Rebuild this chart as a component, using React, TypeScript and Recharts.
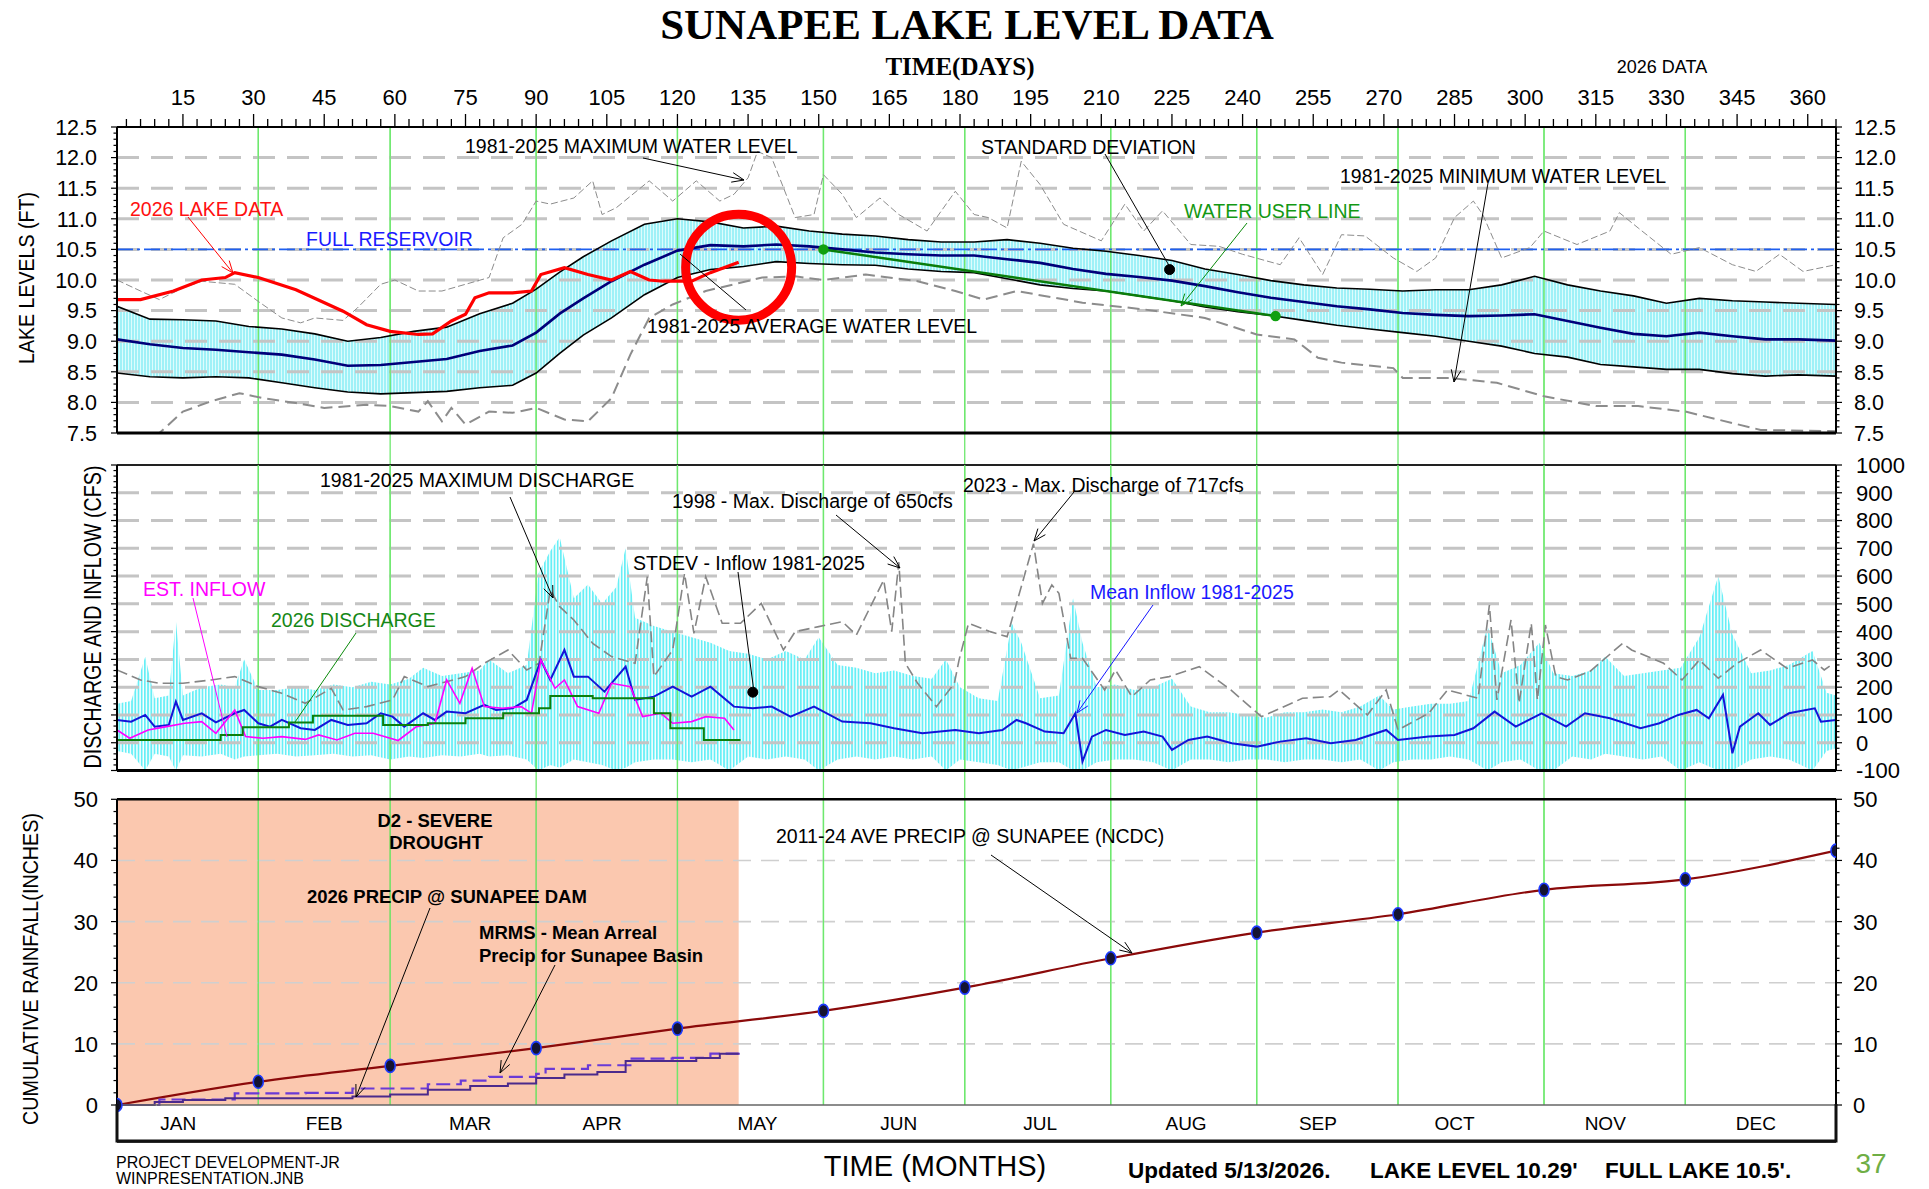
import React from 'react';
import { ComposedChart, Line, Area, XAxis, YAxis, ReferenceLine, ReferenceArea, ReferenceDot } from 'recharts';

type Pt = [number, number];

const W = 1929;
const H = 1189;
const PL = 117;
const PR = 1836;
const SANS = '"Liberation Sans", Arial, sans-serif';
const SERIF = '"Liberation Serif", "Times New Roman", serif';
const GREEN = '#6ee86e';

// ---- time ----
const dayLabels = [15, 30, 45, 60, 75, 90, 105, 120, 135, 150, 165, 180, 195, 210, 225, 240, 255, 270, 285, 300, 315, 330, 345, 360];
const monthEnds = [31, 59, 90, 120, 151, 181, 212, 243, 273, 304, 334];
const monthNames = ['JAN', 'FEB', 'MAR', 'APR', 'MAY', 'JUN', 'JUL', 'AUG', 'SEP', 'OCT', 'NOV', 'DEC'];
const monthLabelDays = [14, 45, 76, 104, 137, 167, 197, 228, 256, 285, 317, 349];

// ---- lake levels (ft) ----
const levelLabels = [7.5, 8.0, 8.5, 9.0, 9.5, 10.0, 10.5, 11.0, 11.5, 12.0, 12.5];
const levelGrid = [8.0, 8.5, 9.0, 9.5, 10.0, 10.5, 11.0, 11.5, 12.0];
const fullReservoir = 10.5;
const levelDays = [1, 8, 15, 22, 29, 36, 43, 50, 57, 64, 71, 78, 85, 90, 95, 100, 106, 113, 120, 127, 134, 141, 148, 155, 162, 169, 176, 183, 190, 197, 204, 211, 218, 225, 232, 239, 246, 253, 260, 267, 274, 281, 288, 295, 302, 309, 316, 323, 330, 337, 344, 351, 358, 366];
const stdHigh = [9.57, 9.36, 9.35, 9.33, 9.24, 9.2, 9.12, 9.0, 9.06, 9.16, 9.23, 9.45, 9.62, 9.85, 10.13, 10.38, 10.64, 10.91, 11.0, 10.95, 10.85, 10.88, 10.8, 10.75, 10.72, 10.66, 10.62, 10.62, 10.66, 10.6, 10.52, 10.47, 10.4, 10.32, 10.18, 10.09, 9.99, 9.92, 9.87, 9.85, 9.82, 9.84, 9.84, 9.92, 10.06, 9.92, 9.82, 9.74, 9.62, 9.7, 9.66, 9.64, 9.62, 9.6];
const avgLevel = [9.03, 8.95, 8.89, 8.86, 8.82, 8.78, 8.7, 8.6, 8.61, 8.66, 8.71, 8.84, 8.93, 9.14, 9.45, 9.7, 9.98, 10.25, 10.48, 10.57, 10.55, 10.58, 10.55, 10.5, 10.45, 10.42, 10.4, 10.4, 10.34, 10.28, 10.18, 10.1, 10.05, 9.99, 9.9, 9.8, 9.71, 9.64, 9.57, 9.52, 9.46, 9.43, 9.41, 9.42, 9.44, 9.33, 9.22, 9.12, 9.08, 9.14, 9.08, 9.03, 9.03, 9.01];
const stdLow = [8.48, 8.42, 8.4, 8.42, 8.4, 8.32, 8.24, 8.17, 8.14, 8.16, 8.18, 8.24, 8.28, 8.48, 8.8, 9.1, 9.38, 9.76, 10.04, 10.17, 10.22, 10.3, 10.27, 10.25, 10.24, 10.18, 10.14, 10.12, 10.02, 9.92, 9.86, 9.82, 9.74, 9.66, 9.56, 9.48, 9.42, 9.34, 9.26, 9.2, 9.14, 9.08, 9.0, 8.92, 8.8, 8.74, 8.62, 8.58, 8.54, 8.54, 8.47, 8.43, 8.45, 8.43];
const maxLevel: Pt[] = [[1, 10.0], [6, 9.82], [10, 9.68], [15, 9.87], [19, 9.98], [26, 9.93], [31, 9.65], [36, 9.38], [40, 9.3], [43, 9.38], [49, 9.34], [52, 9.54], [57, 9.93], [60, 10.0], [65, 9.82], [70, 9.82], [75, 9.93], [80, 10.04], [83, 10.69], [87, 10.91], [90, 11.29], [93, 11.24], [98, 11.34], [102, 11.62], [104, 11.07], [107, 11.18], [114, 11.62], [119, 11.29], [124, 11.62], [129, 11.29], [132, 11.4], [135, 11.67], [137, 12.1], [140, 12.0], [145, 11.02], [149, 11.07], [151, 11.72], [155, 11.4], [158, 11.02], [163, 11.34], [167, 11.07], [173, 10.8], [179, 11.45], [183, 11.07], [186, 11.02], [190, 10.85], [193, 11.94], [197, 11.56], [202, 10.91], [210, 10.64], [215, 11.24], [219, 10.8], [223, 11.13], [229, 10.58], [235, 10.55], [240, 10.42], [248, 10.25], [252, 10.69], [257, 10.09], [261, 10.74], [266, 10.72], [272, 10.36], [277, 10.14], [281, 10.36], [285, 11.02], [289, 11.29], [291, 11.07], [295, 10.36], [301, 10.53], [304, 10.8], [311, 10.58], [318, 10.8], [320, 11.1], [324, 10.85], [331, 10.42], [337, 10.53], [344, 10.25], [349, 10.14], [354, 10.42], [359, 10.14], [366, 10.25]];
const minLevel: Pt[] = [[1, 7.5], [10, 7.5], [15, 7.85], [21, 8.02], [27, 8.15], [32, 8.07], [39, 7.99], [45, 7.91], [54, 7.96], [59, 7.94], [65, 7.85], [67, 8.02], [70, 7.69], [72, 7.91], [75, 7.64], [80, 7.85], [85, 7.83], [90, 7.91], [96, 7.72], [101, 7.69], [106, 8.07], [110, 8.78], [114, 9.38], [119, 9.6], [126, 9.82], [132, 9.93], [138, 10.04], [145, 10.06], [151, 10.0], [160, 10.09], [171, 9.98], [179, 9.82], [185, 9.68], [192, 9.82], [206, 9.63], [219, 9.52], [232, 9.38], [243, 9.11], [251, 9.03], [256, 8.73], [261, 8.65], [272, 8.56], [274, 8.4], [284, 8.4], [294, 8.32], [304, 8.1], [315, 7.94], [324, 7.94], [334, 7.85], [350, 7.55], [366, 7.53]];
const lake2026: Pt[] = [[1, 9.68], [6, 9.68], [13, 9.82], [19, 10.0], [24, 10.04], [26, 10.12], [31, 10.04], [39, 9.84], [49, 9.49], [54, 9.27], [59, 9.16], [65, 9.11], [68, 9.12], [72, 9.33], [75, 9.44], [77, 9.71], [80, 9.79], [85, 9.79], [89, 9.82], [91, 10.09], [96, 10.2], [101, 10.09], [106, 10.0], [110, 10.14], [114, 10.0], [117, 9.98], [123, 9.98], [127, 10.12], [133, 10.29]];
const waterUserLine: Pt[] = [[151, 10.5], [247, 9.41]];

// ---- discharge & inflow (cfs) ----
const flowLabels = [-100, 0, 100, 200, 300, 400, 500, 600, 700, 800, 900, 1000];
const flowGrid = [0, 100, 200, 300, 400, 500, 600, 700, 800, 900];
const inflowStdev: [number, number, number][] = [[1, -30, 140], [4, -40, 150], [7, -100, 310], [9, -40, 160], [12, -50, 170], [13.5, -100, 440], [15, -45, 170], [19, -50, 200], [23, -40, 210], [26, -60, 200], [28, -50, 300], [31, -45, 190], [35, -40, 190], [39, -50, 200], [43, -45, 190], [47, -40, 210], [51, -50, 200], [55, -45, 220], [59, -60, 210], [63, -50, 230], [66, -55, 270], [70, -45, 240], [74, -50, 250], [78, -40, 260], [80, -50, 300], [84, -45, 250], [88, -60, 280], [90.5, -100, 610], [93, -80, 690], [95, -90, 740], [98, -60, 520], [101, -70, 570], [104, -80, 500], [107, -100, 560], [109, -90, 700], [111, -70, 450], [115, -60, 420], [119, -60, 400], [123, -70, 380], [127, -60, 360], [131, -100, 330], [135, -50, 320], [139, -60, 300], [143, -50, 330], [147, -60, 300], [150, -100, 380], [154, -60, 280], [158, -50, 270], [162, -60, 250], [166, -50, 260], [170, -60, 240], [174, -50, 230], [177, -100, 300], [180, -60, 200], [184, -70, 160], [188, -80, 150], [191, -100, 430], [193, -90, 360], [197, -70, 160], [201, -70, 170], [204, -100, 520], [206, -100, 360], [209, -70, 200], [213, -60, 210], [217, -60, 190], [221, -70, 200], [225, -100, 230], [229, -60, 130], [233, -60, 110], [237, -70, 110], [241, -60, 100], [245, -60, 90], [249, -70, 110], [253, -60, 110], [257, -60, 120], [261, -70, 110], [265, -60, 130], [269, -100, 170], [272, -70, 120], [276, -60, 130], [280, -60, 140], [284, -50, 140], [288, -60, 150], [292, -100, 420], [295, -70, 250], [299, -60, 280], [303, -100, 360], [306, -100, 250], [310, -50, 240], [314, -60, 260], [317, -40, 310], [321, -50, 240], [325, -60, 250], [329, -50, 260], [333, -100, 270], [337, -70, 380], [341, -100, 600], [344, -100, 390], [348, -60, 250], [352, -50, 260], [356, -60, 280], [361, -100, 330], [364, -30, 180], [366, -20, 170]];
const meanInflow: Pt[] = [[1, 82], [4, 76], [7, 100], [9, 58], [12, 64], [13.5, 148], [15, 82], [19, 106], [22, 73], [26, 106], [28, 118], [31, 70], [33.5, 58], [36, 82], [40, 52], [43, 46], [46.5, 82], [50, 64], [54, 70], [57, 106], [59.5, 94], [62, 58], [66, 106], [68.5, 82], [71, 112], [75, 106], [79, 136], [81.5, 118], [85, 124], [88, 154], [91, 298], [93, 226], [96, 334], [98, 238], [101, 238], [104.5, 184], [109, 274], [111, 154], [115, 166], [119, 202], [123, 166], [127, 202], [132, 130], [136, 124], [140, 130], [144, 94], [149, 130], [155, 76], [161, 70], [166, 52], [172, 34], [179, 46], [184, 34], [189, 46], [192, 82], [194, 70], [198, 40], [202, 34], [204.5, 106], [206, -68], [208, 22], [211, 46], [215, 28], [219, 40], [223, 22], [225, -26], [228.5, 10], [232.5, 22], [237.7, -2], [243, -14], [248, 4], [253.5, 16], [258.7, -2], [264, 10], [270.5, 46], [273, 10], [279.5, 22], [285, 28], [289, 52], [293.5, 112], [298, 58], [303.5, 106], [308.7, 58], [312.7, 106], [318, 88], [324.5, 52], [328.5, 70], [332.5, 100], [336.4, 118], [339, 88], [342, 172], [344, -38], [345.6, 58], [349.5, 106], [352, 64], [356, 106], [361.5, 124], [362.8, 76], [366, 82]];
const maxDischarge: Pt[] = [[1, 262], [6, 226], [10, 214], [15, 214], [21, 226], [26, 238], [31, 202], [36, 178], [41, 142], [46.5, 196], [49, 118], [54, 130], [59.5, 154], [62, 238], [67, 202], [75, 238], [79, 286], [84, 334], [88, 262], [90.6, 286], [93, 550], [95, 490], [98, 442], [102, 358], [106, 310], [111, 286], [113.6, 598], [115, 238], [119, 334], [121.5, 610], [123.5, 394], [126, 598], [129.5, 430], [133.4, 430], [137.8, 502], [142.5, 334], [145, 400], [150, 418], [155, 436], [158, 388], [163.8, 586], [165.5, 400], [167, 650], [168.4, 286], [171, 214], [175, 130], [178.8, 214], [179.8, 298], [181.8, 430], [186.4, 400], [190, 382], [195.6, 717], [197.5, 502], [199.5, 568], [201, 538], [203.5, 304], [206, 304], [210.7, 190], [213, 262], [216.5, 166], [220.4, 226], [224.4, 238], [230.8, 274], [237.5, 190], [244, 94], [248, 124], [252.7, 160], [258.6, 166], [260.5, 190], [266.5, 100], [270.5, 190], [273, 46], [279.5, 106], [283.5, 190], [290, 160], [292.4, 496], [294, 154], [297, 442], [298.7, 142], [301.3, 430], [302.6, 154], [304.3, 424], [306.5, 238], [309, 226], [313.7, 256], [320.7, 358], [322.6, 334], [329.4, 286], [333.3, 226], [337, 298], [341, 232], [345, 286], [350, 334], [355.6, 268], [361, 298], [363.5, 262], [365, 280]];
const estInflow: Pt[] = [[1, 46], [3.7, 16], [7.6, 46], [11.5, 58], [15.4, 70], [19, 76], [22, 34], [26, 118], [28.3, 22], [32, 16], [36, 22], [41, 12], [43.8, 28], [47.7, 10], [51.5, 34], [55.4, 34], [60.7, 8], [64.6, 58], [68.5, 70], [71, 226], [73.8, 142], [76.4, 268], [79, 130], [82.8, 124], [86.8, 130], [89, 106], [91, 298], [94, 196], [96, 226], [98.8, 130], [103.3, 106], [106, 214], [110, 202], [112.6, 94], [116.5, 106], [119, 70], [123, 76], [126, 94], [130, 88], [132, 46]];
const discharge2026: Pt[] = [[1, 10], [23, 28], [27.7, 56], [37.5, 73], [42.6, 97], [57.5, 64], [67, 70], [75, 88], [83, 106], [90.6, 124], [93, 168], [102, 160], [115, 106], [118.5, 52], [125.6, 10], [133.4, 10]];

// ---- cumulative rainfall (in) ----
const rainLabels = [0, 10, 20, 30, 40, 50];
const rainGrid = [10, 20, 30, 40];
const avgPrecip: Pt[] = [[1, 0], [31, 3.8], [59, 6.4], [90, 9.3], [120, 12.5], [151, 15.4], [181, 19.2], [212, 24.0], [243, 28.2], [273, 31.2], [304, 35.2], [334, 36.9], [366, 41.6]];
const precip2026: Pt[] = [[1, 0], [9, 0.5], [15, 0.8], [24, 1.1], [51, 1.4], [59, 1.7], [67, 2.5], [76, 3.1], [84, 3.5], [90, 4.4], [96, 5.0], [103, 5.4], [109, 7.2], [124, 7.7], [129, 8.4], [133, 8.4]];
const mrmsPrecip: Pt[] = [[1, 0], [10, 0.9], [26, 1.9], [41, 2.0], [51, 2.7], [67, 3.4], [74, 4.0], [80, 4.6], [90, 5.1], [92, 5.9], [101, 6.5], [110, 7.6], [119, 7.7], [127, 8.4], [133, 8.6]];
const droughtEnd = 133;

const pts = (a: Pt[]) => a.map(([d, v]) => ({ d, v }));
const steps = (a: number, b: number, s: number) => {
  const out: number[] = [];
  for (let v = a; v <= b + 1e-9; v += s) out.push(Math.round(v * 100) / 100);
  return out;
};

const levelBand = levelDays.map((d, i) => ({ d, lo: stdLow[i], hi: stdHigh[i], avg: avgLevel[i] }));
const inflowBand = inflowStdev.map(([d, lo, hi]) => ({ d, lo, hi }));
const dayTicks = steps(3, 366, 3);
const AX = { stroke: '#000', strokeWidth: 2 };

const DayTick = (p: any) => {
  const d = p.payload.value as number;
  const major = dayLabels.includes(d);
  return (
    <g>
      <line x1={p.x} x2={p.x} y1={127} y2={127 - (major ? 13 : 8)} stroke="#000" strokeWidth={1.3} />
      {major && (
        <text x={p.x} y={105} textAnchor="middle" fontSize={22} fill="#000">{d}</text>
      )}
    </g>
  );
};

const MonthTick = (p: any) => {
  const i = monthLabelDays.indexOf(p.payload.value);
  return (
    <text x={p.x} y={350} textAnchor="middle" fontSize={19} fill="#000">{monthNames[i]}</text>
  );
};

function yTick(side: 'l' | 'r', labels: number[], fs: number, gap: number, show: boolean, fmt: (v: number) => string) {
  return (p: any) => {
    const v = p.payload.value as number;
    const major = labels.some((l) => Math.abs(l - v) < 1e-6);
    const x0 = side === 'l' ? PL : PR;
    const s = side === 'l' ? -1 : 1;
    return (
      <g>
        <line x1={x0} x2={x0 + s * (major ? 6 : 3.5)} y1={p.y} y2={p.y} stroke="#000" strokeWidth={1.2} />
        {major && show && (
          <text x={x0 + s * gap} y={p.y} dy="0.36em" textAnchor={side === 'l' ? 'end' : 'start'} fontSize={fs} fill="#000">
            {fmt(v)}
          </text>
        )}
      </g>
    );
  };
}

const monthLines = (top: number, bottom: number) =>
  monthEnds.map((m) => (
    <ReferenceLine key={'m' + m} segment={[{ x: m, y: bottom }, { x: m, y: top }]} stroke={GREEN} strokeWidth={1.3} />
  ));

function GreenChart() {
  return (
    <ComposedChart width={W} height={H} margin={{ top: 127, right: 93, bottom: 84, left: PL }}>
      <XAxis type="number" dataKey="d" domain={[1, 366]} hide allowDataOverflow />
      <YAxis domain={[0, 1]} hide allowDataOverflow />
      {monthEnds.map((m) => (
        <ReferenceLine key={m} x={m} stroke={GREEN} strokeWidth={1.3} />
      ))}
    </ComposedChart>
  );
}

function LevelChart() {
  const fmt = (v: number) => v.toFixed(1);
  return (
    <ComposedChart width={W} height={460} margin={{ top: 87, right: 33, bottom: 27, left: 57 }}>
      <defs>
        <pattern id="bandTop" width={3} height={6} patternUnits="userSpaceOnUse">
          <rect width={3} height={6} fill="#5fe8f2" />
          <rect x={2} width={1} height={6} fill="#c6fafc" />
        </pattern>
      </defs>
      <XAxis type="number" dataKey="d" orientation="top" domain={[1, 366]} ticks={dayTicks} interval={0} tick={DayTick} tickLine={false} axisLine={AX} height={40} allowDataOverflow />
      <YAxis type="number" domain={[7.5, 12.5]} ticks={steps(7.5, 12.5, 0.1)} interval={0} tick={yTick('l', levelLabels, 21.5, 20, true, fmt)} tickLine={false} axisLine={AX} width={60} allowDataOverflow />
      <YAxis yAxisId="r" orientation="right" type="number" domain={[7.5, 12.5]} ticks={steps(7.5, 12.5, 0.1)} interval={0} tick={yTick('r', levelLabels, 21.5, 18, true, fmt)} tickLine={false} axisLine={AX} width={60} allowDataOverflow />
      <Area data={levelBand} dataKey={(p: any) => [p.lo, p.hi]} stroke="none" fill="url(#bandTop)" isAnimationActive={false} />
      {levelGrid.map((v) => (
        <ReferenceLine key={v} y={v} stroke="#c4c4c4" strokeWidth={3} strokeDasharray="22 12" />
      ))}
      {monthLines(12.5, 7.5)}
      <ReferenceLine y={fullReservoir} stroke="#1e5ff0" strokeWidth={1.6} strokeDasharray="16 4 3 4" />
      <Line data={pts(maxLevel)} dataKey="v" stroke="#8c8c8c" strokeWidth={1} strokeDasharray="7 3" dot={false} isAnimationActive={false} />
      <Line data={pts(minLevel)} dataKey="v" stroke="#8c8c8c" strokeWidth={2} strokeDasharray="12 6" dot={false} isAnimationActive={false} />
      <Line data={levelBand} dataKey="hi" stroke="#000" strokeWidth={1.6} dot={false} isAnimationActive={false} />
      <Line data={levelBand} dataKey="lo" stroke="#000" strokeWidth={1.6} dot={false} isAnimationActive={false} />
      <Line data={levelBand} dataKey="avg" stroke="#00007a" strokeWidth={2.6} dot={false} isAnimationActive={false} />
      <Line data={pts(waterUserLine)} dataKey="v" stroke="#0a7d0a" strokeWidth={2.5} dot={{ r: 4, fill: '#10a010', stroke: '#10a010' }} isAnimationActive={false} />
      <Line data={pts(lake2026)} dataKey="v" stroke="#ff0000" strokeWidth={3.2} dot={false} isAnimationActive={false} />
      <ReferenceLine y={7.5} stroke="#000" strokeWidth={3} />
      <ReferenceDot x={133} y={10.21} r={53} fill="none" stroke="#ff0000" strokeWidth={9} />
      <ReferenceDot x={224.5} y={10.17} r={5} fill="#000" stroke="#000" />
    </ComposedChart>
  );
}

function FlowChart() {
  const fmt = (v: number) => String(v);
  return (
    <ComposedChart width={W} height={360} margin={{ top: 25, right: 33, bottom: 29.5, left: 57 }}>
      <defs>
        <pattern id="bandMid" width={3.2} height={6} patternUnits="userSpaceOnUse">
          <rect width={1.8} height={6} fill="#00e4f0" />
        </pattern>
      </defs>
      <XAxis type="number" dataKey="d" domain={[1, 366]} hide allowDataOverflow />
      <YAxis type="number" domain={[-100, 1000]} ticks={steps(-100, 1000, 20)} interval={0} tick={yTick('l', flowLabels, 22, 20, false, fmt)} tickLine={false} axisLine={AX} width={60} allowDataOverflow />
      <YAxis yAxisId="r" orientation="right" type="number" domain={[-100, 1000]} ticks={steps(-100, 1000, 20)} interval={0} tick={yTick('r', flowLabels, 22, 20, true, fmt)} tickLine={false} axisLine={AX} width={60} allowDataOverflow />
      {flowGrid.map((v) => (
        <ReferenceLine key={v} y={v} stroke="#c4c4c4" strokeWidth={3} strokeDasharray="22 12" />
      ))}
      <ReferenceLine y={1000} stroke="#222" strokeWidth={2} />
      <Area data={inflowBand} dataKey={(p: any) => [p.lo, p.hi]} stroke="none" fill="url(#bandMid)" isAnimationActive={false} />
      {monthLines(1000, -100)}
      <Line data={pts(maxDischarge)} dataKey="v" stroke="#858585" strokeWidth={1.6} strokeDasharray="11 5" dot={false} isAnimationActive={false} />
      <Line data={pts(meanInflow)} dataKey="v" stroke="#1414d8" strokeWidth={2} dot={false} isAnimationActive={false} />
      <Line data={pts(estInflow)} dataKey="v" stroke="#ff00ff" strokeWidth={1.6} dot={false} isAnimationActive={false} />
      <Line data={pts(discharge2026)} dataKey="v" type="stepAfter" stroke="#0b7f0b" strokeWidth={2} dot={false} isAnimationActive={false} />
      <ReferenceLine y={-100} stroke="#000" strokeWidth={3} />
      <ReferenceDot x={136} y={182} r={5} fill="#000" stroke="#000" />
    </ComposedChart>
  );
}

function RainChart() {
  const fmt = (v: number) => String(v);
  const dot = (p: any) => (
    <ellipse key={'e' + p.index} cx={p.cx} cy={p.cy} rx={5} ry={6.5} fill="#141432" stroke="#1e3cff" strokeWidth={1.6} />
  );
  return (
    <ComposedChart width={W} height={409} margin={{ top: 19.3, right: 33, bottom: 17.3, left: 57 }}>
      <XAxis type="number" dataKey="d" domain={[1, 366]} ticks={monthLabelDays} interval={0} tick={MonthTick} tickLine={false} axisLine={AX} height={30} allowDataOverflow />
      <YAxis type="number" domain={[-6, 50]} ticks={steps(0, 50, 2)} interval={0} tick={yTick('l', rainLabels, 22, 19, true, fmt)} tickLine={false} axisLine={AX} width={60} allowDataOverflow />
      <YAxis yAxisId="r" orientation="right" type="number" domain={[-6, 50]} ticks={steps(0, 50, 2)} interval={0} tick={yTick('r', rainLabels, 22, 17, true, fmt)} tickLine={false} axisLine={AX} width={60} allowDataOverflow />
      {rainGrid.map((v) => (
        <ReferenceLine key={v} y={v} stroke="#cfcfcf" strokeWidth={1.6} strokeDasharray="18 10" />
      ))}
      {monthLines(50, 0)}
      <Line data={pts(avgPrecip)} dataKey="v" type="monotone" stroke="#8b0a0a" strokeWidth={2.2} dot={dot} isAnimationActive={false} />
      <Line data={pts(mrmsPrecip)} dataKey="v" type="stepAfter" stroke="#6a3ad6" strokeWidth={2.2} strokeDasharray="14 6" dot={false} isAnimationActive={false} />
      <Line data={pts(precip2026)} dataKey="v" type="stepAfter" stroke="#4b2a8c" strokeWidth={2} dot={false} isAnimationActive={false} />
      <ReferenceArea x1={1} x2={droughtEnd} y1={0} y2={50} fill="#f7925f" fillOpacity={0.5} stroke="none" />
      <ReferenceLine y={0} stroke="#666" strokeWidth={1.5} />
      <ReferenceLine y={50} stroke="#000" strokeWidth={2.5} />
    </ComposedChart>
  );
}

const ARROW_COLORS: Record<string, string> = { k: '#000', r: '#ff0000', g: '#0a8a0a', b: '#1414ff', m: '#ff00ff' };

function Arrow({ x1, y1, x2, y2, c = 'k', head = true }: { x1: number; y1: number; x2: number; y2: number; c?: string; head?: boolean }) {
  const col = ARROW_COLORS[c];
  const a = Math.atan2(y2 - y1, x2 - x1);
  const L = 13;
  const w = 0.38;
  const hx1 = x2 - L * Math.cos(a - w);
  const hy1 = y2 - L * Math.sin(a - w);
  const hx2 = x2 - L * Math.cos(a + w);
  const hy2 = y2 - L * Math.sin(a + w);
  return (
    <g stroke={col} strokeWidth={1} fill="none">
      <line x1={x1} y1={y1} x2={x2} y2={y2} />
      {head && <polyline points={`${hx1},${hy1} ${x2},${y2} ${hx2},${hy2}`} />}
    </g>
  );
}

function Overlay() {
  const t = { fontSize: 19.5, fill: '#000' };
  return (
    <svg width={W} height={H} style={{ position: 'absolute', left: 0, top: 0, pointerEvents: 'none' }} fontFamily={SANS}>
      <text x={967} y={39} textAnchor="middle" fontFamily={SERIF} fontWeight="bold" fontSize={43}>SUNAPEE LAKE LEVEL DATA</text>
      <text x={960} y={75} textAnchor="middle" fontFamily={SERIF} fontWeight="bold" fontSize={25}>TIME(DAYS)</text>
      <text x={1662} y={72.5} textAnchor="middle" fontSize={18}>2026 DATA</text>

      <g transform="translate(26,278) rotate(-90) scale(1,1.3)">
        <text x={0} y={0} dy="0.36em" textAnchor="middle" fontSize={17} textLength={172} lengthAdjust="spacingAndGlyphs">LAKE LEVELS (FT)</text>
      </g>
      <g transform="translate(93,617) rotate(-90) scale(1,1.3)">
        <text x={0} y={0} dy="0.36em" textAnchor="middle" fontSize={18} textLength={303} lengthAdjust="spacingAndGlyphs">DISCHARGE AND INFLOW (CFS)</text>
      </g>
      <g transform="translate(30,969) rotate(-90) scale(1,1.25)">
        <text x={0} y={0} dy="0.36em" textAnchor="middle" fontSize={18} textLength={312} lengthAdjust="spacingAndGlyphs">CUMULATIVE RAINFALL(INCHES)</text>
      </g>

      {/* frame round the month names */}
      <path d={`M${PL},1104 V1141 H${PR} V1104`} fill="none" stroke="#111" strokeWidth={3} />

      {/* lake level notes */}
      <text x={465} y={152.5} {...t}>1981-2025 MAXIMUM WATER LEVEL</text>
      <Arrow x1={643} y1={158} x2={744} y2={180} />
      <text x={981} y={154} {...t}>STANDARD DEVIATION</text>
      <Arrow x1={1105} y1={154} x2={1171} y2={269} head={false} />
      <text x={1340} y={182.5} {...t}>1981-2025 MINIMUM WATER LEVEL</text>
      <Arrow x1={1488} y1={183} x2={1454} y2={382} />
      <text x={1184} y={218} {...t} fill="#139813">WATER USER LINE</text>
      <Arrow x1={1247} y1={223} x2={1181} y2={306} c="g" />
      <text x={130} y={216} {...t} fill="#ff1010">2026 LAKE DATA</text>
      <Arrow x1={188} y1={217} x2={233} y2={273} c="r" />
      <text x={306} y={246} {...t} fill="#1a1aff">FULL RESERVOIR</text>
      <text x={647} y={333} {...t}>1981-2025 AVERAGE WATER LEVEL</text>
      <Arrow x1={746} y1={310} x2={680} y2={254} head={false} />

      {/* discharge notes */}
      <text x={320} y={487} {...t}>1981-2025 MAXIMUM DISCHARGE</text>
      <Arrow x1={510} y1={497} x2={553} y2={598} />
      <text x={672} y={508} {...t}>1998 - Max. Discharge of 650cfs</text>
      <Arrow x1={836} y1={515} x2={900} y2={568} />
      <text x={963} y={492} {...t}>2023 - Max. Discharge of 717cfs</text>
      <Arrow x1={1074} y1={492} x2={1034} y2={541} />
      <text x={633} y={570} {...t}>STDEV - Inflow 1981-2025</text>
      <Arrow x1={738} y1={572} x2={754} y2={692} head={false} />
      <text x={1090} y={599} {...t} fill="#1a1aff">Mean Inflow 1981-2025</text>
      <Arrow x1={1153} y1={605} x2={1077} y2={713} c="b" />
      <text x={143} y={595.5} {...t} fill="#ff00ff">EST. INFLOW</text>
      <Arrow x1={193} y1={598} x2={227} y2={737} c="m" head={false} />
      <text x={271} y={627} {...t} fill="#168816">2026 DISCHARGE</text>
      <Arrow x1={356} y1={633} x2={295} y2={722} c="g" head={false} />

      {/* rainfall notes */}
      <text x={435} y={826.5} textAnchor="middle" fontSize={18.5} fontWeight="bold">D2 - SEVERE</text>
      <text x={436} y={849} textAnchor="middle" fontSize={18.5} fontWeight="bold">DROUGHT</text>
      <text x={307} y={903} fontSize={18.5} fontWeight="bold">2026 PRECIP @ SUNAPEE DAM</text>
      <Arrow x1={430} y1={908} x2={356} y2={1097} />
      <text x={479} y={939} fontSize={18.5} fontWeight="bold">MRMS - Mean Arreal</text>
      <text x={479} y={962} fontSize={18.5} fontWeight="bold">Precip for Sunapee Basin</text>
      <Arrow x1={555} y1={965} x2={500} y2={1073} />
      <text x={776} y={843} {...t}>2011-24 AVE PRECIP @ SUNAPEE (NCDC)</text>
      <Arrow x1={991} y1={855} x2={1132} y2={953} />

      {/* footer */}
      <text x={116} y={1168} fontSize={16}>PROJECT DEVELOPMENT-JR</text>
      <text x={116} y={1184} fontSize={16}>WINPRESENTATION.JNB</text>
      <text x={935} y={1176} textAnchor="middle" fontSize={29}>TIME (MONTHS)</text>
      <text x={1128} y={1178} fontSize={22.5} fontWeight="bold">Updated 5/13/2026.</text>
      <text x={1370} y={1178} fontSize={22.5} fontWeight="bold">LAKE LEVEL 10.29'</text>
      <text x={1605} y={1178} fontSize={22.5} fontWeight="bold">FULL LAKE 10.5'.</text>
      <text x={1871} y={1173} textAnchor="middle" fontSize={28} fill="#6fae45">37</text>
    </svg>
  );
}

export default function App() {
  return (
    <div style={{ position: 'absolute', left: 0, top: 0, width: W, height: H, background: '#fff', fontFamily: SANS, overflow: 'hidden' }}>
      <div style={{ position: 'absolute', left: 0, top: 0 }}><GreenChart /></div>
      <div style={{ position: 'absolute', left: 0, top: 0 }}><LevelChart /></div>
      <div style={{ position: 'absolute', left: 0, top: 440 }}><FlowChart /></div>
      <div style={{ position: 'absolute', left: 0, top: 780 }}><RainChart /></div>
      <Overlay />
    </div>
  );
}
